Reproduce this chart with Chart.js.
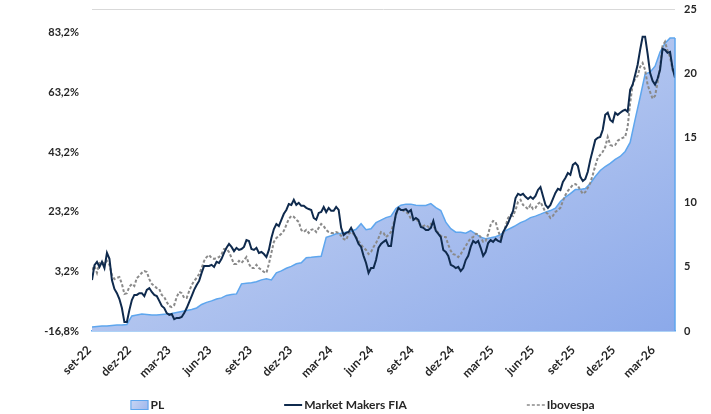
<!DOCTYPE html>
<html>
<head>
<meta charset="utf-8">
<script src="https://cdn.jsdelivr.net/npm/chart.js@4.4.1/dist/chart.umd.min.js"></script>
<style>
  html, body { margin: 0; padding: 0; background: #ffffff; }
  #wrap { width: 711px; height: 414px; }
</style>
</head>
<body>
<div id="wrap"><canvas id="chart" width="711" height="414"></canvas></div>
<script>
// Period covered by the series (each series is evenly spaced between these dates)
const firstDate = '2022-08-25';
const lastDate = '2026-04-06';

// Quarter labels on the date axis
const quarterLabels = ['set-22', 'dez-22', 'mar-23', 'jun-23', 'set-23', 'dez-23', 'mar-24',
  'jun-24', 'set-24', 'dez-24', 'mar-25', 'jun-25', 'set-25', 'dez-25', 'mar-26'];

// Left axis ticks (accumulated return, %)
const returnTicks = [-16.8, 3.2, 23.2, 43.2, 63.2, 83.2];

// Net assets (PL), right axis
const pl = [
  0.31, 0.35, 0.39, 0.39, 0.43, 0.47, 0.47, 0.51, 1.17, 1.25,
  1.32, 1.29, 1.25, 1.25, 1.29, 1.32, 1.36, 1.44, 1.52, 1.60,
  1.67, 1.79, 2.06, 2.22, 2.34, 2.49, 2.57, 2.76, 2.84, 2.88,
  3.66, 3.70, 3.74, 3.82, 3.97, 4.05, 3.97, 4.52, 4.67, 4.87,
  5.02, 5.22, 5.30, 5.69, 5.72, 5.76, 5.80, 7.28, 7.40, 7.55,
  7.59, 7.67, 7.75, 7.90, 8.33, 7.87, 7.94, 8.41, 8.61, 8.80,
  8.92, 9.50, 9.77, 9.85, 9.85, 9.77, 9.74, 9.74, 9.89, 9.58,
  9.35, 8.45, 7.94, 7.67, 7.67, 7.59, 7.79, 7.55, 7.28, 7.17,
  7.24, 7.32, 7.48, 7.79, 7.98, 8.18, 8.41, 8.57, 8.80, 8.92,
  9.07, 9.23, 9.35, 9.54, 10.05, 10.40, 10.67, 10.98, 10.98, 11.06,
  11.45, 11.99, 12.46, 12.77, 13.01, 13.32, 13.55, 13.94, 14.64, 16.43,
  18.15, 19.94, 20.09, 20.56, 21.65, 22.35, 22.74, 22.74
];

// Market Makers FIA accumulated return (%)
const marketMakers = [
  0.3, 5.3, 6.4, 4.7, 6.4, 4.3, 9.4, 7.4, 0.3, -2.7,
  -4.1, -6.1, -9.1, -13.8, -13.8, -9.8, -6.4, -4.7, -4.7, -4.1,
  -4.1, -5.1, -3.0, -2.4, -3.7, -4.7, -5.1, -6.7, -8.4, -9.1,
  -10.8, -11.4, -11.1, -12.8, -12.4, -12.4, -12.1, -10.8, -9.1, -7.1,
  -5.1, -3.0, -1.4, 0.0, 2.7, 5.0, 5.0, 5.0, 5.4, 4.7,
  6.4, 6.0, 7.4, 9.4, 11.1, 12.4, 11.4, 10.0, 11.1, 10.4,
  10.7, 11.4, 13.7, 13.4, 10.7, 10.4, 11.1, 9.4, 9.7, 9.0,
  8.0, 10.4, 14.4, 17.4, 19.1, 18.4, 20.5, 22.5, 23.8, 25.8,
  25.5, 27.2, 25.5, 26.2, 25.2, 25.2, 24.5, 24.1, 23.8, 21.1,
  20.5, 22.8, 23.1, 24.8, 23.1, 24.5, 23.5, 23.5, 24.8, 23.8,
  17.8, 15.4, 16.1, 16.4, 17.8, 16.1, 14.4, 12.4, 11.4, 8.4,
  6.0, 2.7, 4.3, 4.3, 7.0, 11.1, 12.4, 13.1, 13.7, 11.7,
  11.7, 17.8, 22.5, 24.5, 23.8, 23.8, 24.1, 23.1, 23.8, 20.5,
  21.1, 20.5, 18.1, 17.8, 17.1, 17.1, 17.8, 20.1, 16.8, 15.8,
  14.7, 10.4, 9.7, 8.4, 5.4, 5.0, 4.3, 4.7, 3.3, 4.3,
  7.0, 8.4, 11.4, 13.4, 12.7, 13.4, 11.1, 8.4, 9.7, 12.7,
  13.7, 13.1, 14.1, 13.4, 13.1, 16.4, 17.8, 19.4, 21.5, 23.5,
  27.8, 29.2, 28.8, 29.2, 28.2, 27.5, 28.2, 27.5, 28.5, 30.5,
  31.5, 28.5, 25.5, 24.5, 25.5, 27.5, 29.5, 30.9, 30.5, 33.2,
  34.5, 36.2, 35.6, 38.9, 39.6, 38.6, 34.9, 33.5, 34.2, 36.6,
  40.6, 43.9, 47.3, 48.0, 48.3, 50.7, 55.7, 56.4, 54.0, 53.3,
  56.4, 55.7, 56.4, 57.0, 57.4, 56.7, 64.1, 65.8, 69.1, 72.5,
  77.5, 81.9, 81.9, 76.2, 69.8, 67.1, 65.8, 67.8, 70.8, 77.8,
  77.5, 76.5, 76.8, 71.5, 68.1
];

// Ibovespa accumulated return (%)
const ibovespa = [
  3.7, 5.0, 2.7, 6.0, 6.4, 5.7, 6.7, 5.4, 2.0, 0.6,
  1.0, 1.3, -1.0, -4.4, -4.1, -2.0, -1.0, -1.7, 1.0, 1.7,
  2.7, 3.3, 3.0, 0.6, -1.0, -1.7, -2.4, -2.7, -4.7, -5.4,
  -7.1, -8.4, -8.8, -8.1, -5.4, -3.7, -4.1, -5.7, -5.7, -3.4,
  -1.4, 0.0, 1.0, 2.3, 4.3, 6.7, 8.0, 8.7, 7.7, 7.4,
  7.7, 8.0, 9.0, 10.7, 10.7, 9.7, 7.7, 5.7, 5.7, 6.7,
  6.0, 7.0, 8.0, 5.7, 4.3, 4.3, 5.4, 4.3, 3.7, 3.0,
  2.7, 5.7, 9.4, 13.1, 14.4, 15.1, 15.8, 16.8, 18.8, 20.8,
  21.8, 21.5, 20.5, 19.8, 17.1, 16.4, 17.1, 16.1, 17.1, 17.4,
  16.4, 17.8, 19.1, 18.4, 17.1, 16.4, 16.1, 16.1, 16.4, 16.1,
  15.1, 14.1, 13.7, 15.7, 16.4, 15.7, 14.7, 13.4, 12.1, 11.1,
  10.4, 9.0, 9.7, 11.4, 12.7, 14.4, 16.4, 16.1, 14.7, 15.4,
  16.4, 19.1, 22.1, 24.1, 24.1, 23.5, 23.1, 22.5, 20.8, 20.5,
  21.1, 19.8, 18.4, 18.4, 18.8, 18.1, 19.1, 18.4, 17.1, 16.1,
  15.1, 14.7, 14.7, 12.1, 10.1, 9.0, 8.7, 8.0, 9.0, 10.4,
  11.7, 13.1, 14.4, 14.7, 15.8, 15.7, 14.7, 13.1, 13.4, 15.7,
  18.8, 20.1, 19.8, 16.8, 14.7, 15.7, 18.4, 21.1, 22.1, 21.8,
  23.8, 26.5, 27.2, 25.5, 24.8, 24.1, 25.5, 24.1, 24.5, 25.8,
  26.5, 24.8, 23.1, 22.5, 21.1, 21.8, 23.1, 23.8, 24.5, 26.8,
  28.8, 30.2, 31.2, 32.2, 32.5, 31.9, 30.5, 29.2, 29.8, 31.2,
  32.9, 35.6, 38.6, 41.3, 42.3, 43.3, 44.9, 48.3, 45.6, 45.3,
  45.6, 47.0, 47.6, 48.0, 48.3, 51.7, 59.7, 65.8, 67.8, 68.8,
  71.8, 73.1, 70.8, 65.8, 63.4, 61.1, 62.1, 66.4, 71.8, 78.8,
  80.2, 77.2, 75.2, 70.8, 69.1
];

const seriesNames = ['PL', 'Market Makers FIA', 'Ibovespa'];

// ---- x positions (days since epoch) ----
const DAY = 86400000;
const t0 = Date.parse(firstDate) / DAY;
const t1 = Date.parse(lastDate) / DAY;
const quarterDays = quarterLabels.map((_, k) => Date.UTC(2022, 8 + 3 * k, 1) / DAY);
const toPoints = arr => arr.map((v, i) => ({ x: t0 + (t1 - t0) * i / (arr.length - 1), y: v }));

const NAVY = '#0f2a4d';
const GREY = '#8a8a8a';
const PL_EDGE = '#5ea6ee';
const FONT = { family: 'Lato', weight: 'bold', size: 11 };
const XFONT = { family: 'Lato', weight: 'bold', size: 12 };
const TEXT = '#262626';

function plGradient(context) {
  const chart = context.chart;
  const area = chart.chartArea;
  if (!area) return '#adc1ef';
  const w = area.right - area.left;
  const h = area.bottom - area.top;
  const g = chart.ctx.createLinearGradient(area.left, area.top, area.left + w * 0.5, area.top + h * 1.77);
  g.addColorStop(0, '#dae2f5');
  g.addColorStop(1, '#7fa0e8');
  return g;
}

// keep the vertical axes from reserving extra room above/below the plot
function tightY(width) {
  return s => {
    s.width = width;
    s.paddingTop = 7;
    s.paddingBottom = 7;
  };
}

// closes the PL area on its right side, down to the axis
const plEdge = {
  id: 'plEdge',
  afterDatasetsDraw(chart) {
    const meta = chart.getDatasetMeta(0);
    const last = meta.data[meta.data.length - 1];
    if (!last) return;
    const ctx = chart.ctx;
    ctx.save();
    ctx.strokeStyle = PL_EDGE;
    ctx.lineWidth = 1.5;
    ctx.beginPath();
    ctx.moveTo(last.x, last.y);
    ctx.lineTo(last.x, chart.chartArea.bottom);
    ctx.stroke();
    ctx.restore();
  }
};

// legend row along the bottom, items spread with equal gaps
const bottomLegend = {
  id: 'bottomLegend',
  afterDraw(chart) {
    const ctx = chart.ctx;
    ctx.save();
    ctx.font = `${FONT.weight} 12px ${FONT.family}`;
    const sw = 18, swGap = 2, gap = 120;
    const widths = seriesNames.map(t => sw + swGap + ctx.measureText(t).width);
    const total = widths.reduce((a, b) => a + b, 0) + gap * (widths.length - 1);
    let x = (chart.width - total) / 2 + 7;
    const y = 405;
    seriesNames.forEach((name, i) => {
      if (i === 0) {
        const g = ctx.createLinearGradient(x, y - 5, x + sw, y + 5);
        g.addColorStop(0, '#c9d6f4');
        g.addColorStop(1, '#9fb6ec');
        ctx.fillStyle = g;
        ctx.fillRect(x, y - 5, sw, 10);
        ctx.strokeStyle = PL_EDGE;
        ctx.lineWidth = 1;
        ctx.strokeRect(x + 0.5, y - 4.5, sw - 1, 9);
      } else {
        ctx.strokeStyle = i === 1 ? NAVY : GREY;
        ctx.lineWidth = i === 1 ? 2 : 1.5;
        ctx.setLineDash(i === 1 ? [] : [3, 2]);
        ctx.beginPath();
        ctx.moveTo(x, y);
        ctx.lineTo(x + sw, y);
        ctx.stroke();
        ctx.setLineDash([]);
      }
      ctx.fillStyle = TEXT;
      ctx.textAlign = 'left';
      ctx.textBaseline = 'middle';
      ctx.fillText(name, x + sw + swGap, y);
      x += widths[i] + gap;
    });
    ctx.restore();
  }
};

new Chart(document.getElementById('chart'), {
  type: 'line',
  data: {
    datasets: [
      {
        label: seriesNames[0],
        data: toPoints(pl),
        yAxisID: 'yR',
        fill: 'origin',
        backgroundColor: plGradient,
        borderColor: PL_EDGE,
        borderWidth: 1.5,
        pointRadius: 0,
        tension: 0,
        order: 3
      },
      {
        label: seriesNames[2],
        data: toPoints(ibovespa),
        yAxisID: 'yL',
        fill: false,
        borderColor: GREY,
        borderWidth: 2,
        borderDash: [3, 2],
        pointRadius: 0,
        tension: 0,
        order: 2
      },
      {
        label: seriesNames[1],
        data: toPoints(marketMakers),
        yAxisID: 'yL',
        fill: false,
        borderColor: NAVY,
        borderWidth: 2,
        pointRadius: 0,
        tension: 0,
        order: 1
      }
    ]
  },
  options: {
    responsive: false,
    animation: false,
    devicePixelRatio: 1,
    layout: { padding: { top: 9, left: 0, right: 0, bottom: 29 } },
    plugins: {
      legend: { display: false },
      tooltip: { enabled: false }
    },
    scales: {
      x: {
        type: 'linear',
        min: t0,
        max: t1,
        afterBuildTicks: s => { s.ticks = quarterDays.map(v => ({ value: v })); },
        afterFit: s => { s.height = 54; },
        grid: { display: false, drawTicks: false },
        border: { display: true, color: PL_EDGE, width: 1.5 },
        ticks: {
          autoSkip: false,
          maxRotation: 45,
          minRotation: 45,
          padding: 12,
          labelOffset: -6,
          font: XFONT,
          color: TEXT,
          callback: (v, i) => quarterLabels[i]
        }
      },
      yL: {
        type: 'linear',
        position: 'left',
        min: -16.8,
        max: 91.2,
        afterBuildTicks: s => { s.ticks = returnTicks.map(v => ({ value: v })); },
        afterFit: tightY(92),
        grid: { display: false, drawTicks: false },
        border: { display: false },
        ticks: {
          padding: 13,
          font: FONT,
          color: TEXT,
          callback: v => v.toFixed(1).replace('.', ',') + '%'
        }
      },
      yR: {
        type: 'linear',
        position: 'right',
        min: 0,
        max: 25,
        afterFit: tightY(36),
        grid: {
          drawOnChartArea: true,
          drawTicks: false,
          color: c => (c.tick && c.tick.value === 25 ? '#d9d9d9' : 'rgba(0,0,0,0)')
        },
        border: { display: false },
        ticks: {
          stepSize: 5,
          padding: 9,
          font: FONT,
          color: TEXT
        }
      }
    }
  },
  plugins: [plEdge, bottomLegend]
});
</script>
</body>
</html>
